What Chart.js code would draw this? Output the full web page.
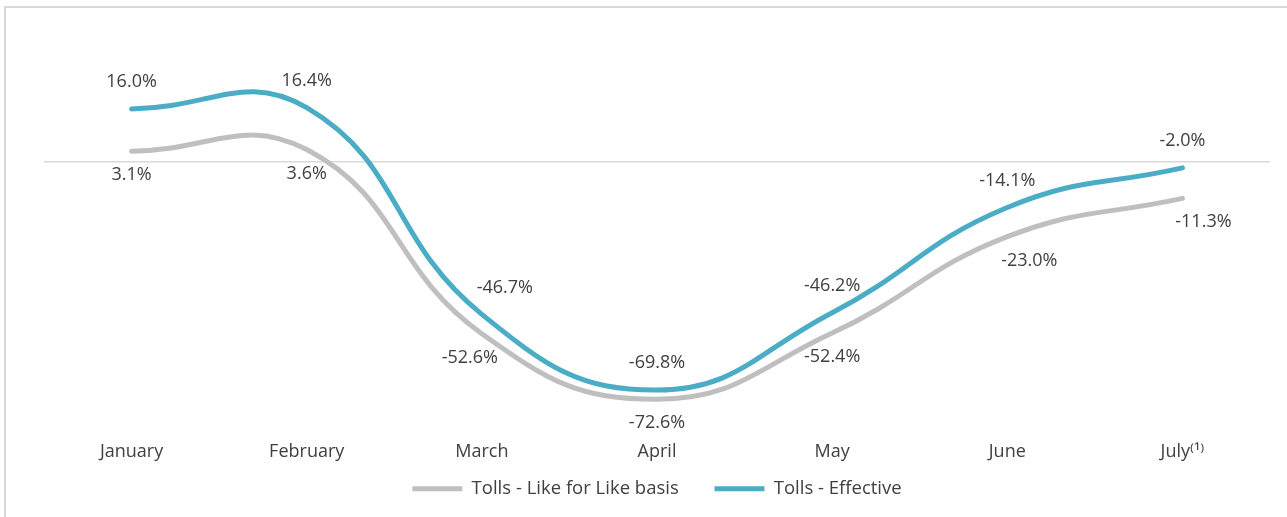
<!DOCTYPE html>
<html>
<head>
<meta charset="utf-8">
<script src="https://cdn.jsdelivr.net/npm/chart.js@4"></script>
<style>
  html, body { margin: 0; padding: 0; background: #fff; }
  #wrap { position: relative; width: 1287px; height: 517px; overflow: hidden; }
  #frame { position: absolute; left: 4px; top: 6px; width: 1300px; height: 530px;
           border: 2px solid #d9d9d9; box-sizing: border-box; }
  canvas { position: absolute; left: 0; top: 0; }
</style>
</head>
<body>
<div id="wrap">
  <div id="frame"></div>
  <canvas id="myChart" width="1287" height="517"></canvas>
</div>
<script>
const months = ["January", "February", "March", "April", "May", "June", "July\u207D\u00B9\u207E"];
const likeForLike = [3.1, 3.6, -52.6, -72.6, -52.4, -23.0, -11.3];
const effective = [16.0, 16.4, -46.7, -69.8, -46.2, -14.1, -2.0];

// label nudges (px) to follow the original placement
const grayDx = [0, 0, -12, 0, 0, 22, 21];
const blueDx = [0, 0, 23, 0, 0, 0, 0];

const textColor = "#404040";
const fontFamily = "'Open Sans', sans-serif";

const labelPlugin = {
  id: "pointLabels",
  afterDatasetsDraw(chart) {
    const ctx = chart.ctx;
    ctx.save();
    ctx.font = "18px " + fontFamily;
    ctx.fillStyle = textColor;
    ctx.textAlign = "center";
    ctx.textBaseline = "middle";
    chart.data.datasets.forEach((ds, i) => {
      const meta = chart.getDatasetMeta(i);
      meta.data.forEach((pt, j) => {
        const v = ds.data[j];
        const txt = v.toFixed(1) + "%";
        if (i === 0) {
          ctx.fillText(txt, pt.x + grayDx[j], pt.y + 24);
        } else {
          ctx.fillText(txt, pt.x + blueDx[j], pt.y - 27);
        }
      });
    });
    ctx.restore();
  }
};

const data = {
  labels: months,
  datasets: [
    {
      label: "Tolls - Like for Like basis",
      data: likeForLike,
      borderColor: "#bfbfbf",
      backgroundColor: "#bfbfbf",
      borderWidth: 5,
      borderCapStyle: "round",
      pointRadius: 0,
      tension: 0.45,
    },
    {
      label: "Tolls - Effective",
      data: effective,
      borderColor: "#4bacc6",
      backgroundColor: "#4bacc6",
      borderWidth: 5,
      borderCapStyle: "round",
      pointRadius: 0,
      tension: 0.45,
    },
  ],
};

const config = {
  type: "line",
  data: data,
  plugins: [labelPlugin],
  options: {
    responsive: false,
    animation: false,
    layout: { padding: { left: 44, right: 17, top: 63, bottom: 9 } },
    plugins: {
      tooltip: { enabled: false },
      legend: {
        position: "bottom",
        labels: {
          usePointStyle: true,
          pointStyle: "line",
          pointStyleWidth: 50,
          color: textColor,
          font: { family: fontFamily, size: 18.5 },
          padding: 8,
          generateLabels(chart) {
            const items = Chart.defaults.plugins.legend.labels.generateLabels(chart);
            items[0].text = items[0].text + "\u2003\u2002";
            return items;
          },
        },
      },
    },
    scales: {
      x: {
        offset: true,
        grid: { display: false, drawTicks: false },
        border: { display: false },
        ticks: { color: textColor, font: { family: fontFamily, size: 18 }, padding: 1 },
        afterFit(scale) { scale.height += 8; },
      },
      y: {
        min: -85,
        max: 30,
        border: { display: false },
        ticks: { display: false, stepSize: 10 },
        grid: {
          drawTicks: false,
          color: (c) => (c.tick && c.tick.value === 0 ? "#d9d9d9" : "rgba(0,0,0,0)"),
          lineWidth: 1.5,
        },
      },
    },
  },
};

const myChart = new Chart(document.getElementById("myChart"), config);
</script>
</body>
</html>
